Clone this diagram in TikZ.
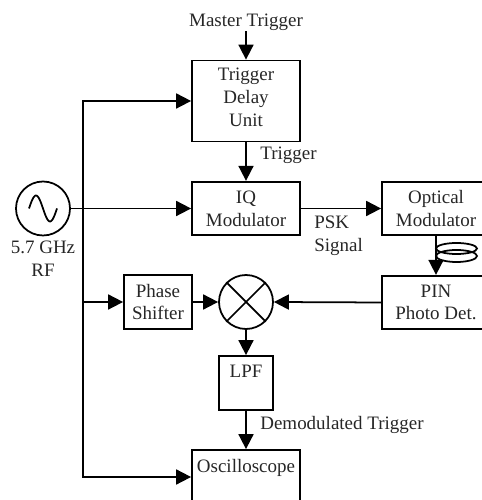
\documentclass[tikz,border=0pt]{standalone}
\usepackage{fontspec}
\setmainfont{Liberation Serif}
\usetikzlibrary{arrows.meta}

\tikzset{
  blockbox/.style={draw,line width=1pt,inner sep=0pt,align=center,text=black!85,font=\fontsize{10.8pt}{13pt}\selectfont},
  roundbox/.style={circle,draw,line width=1pt,inner sep=0pt,minimum size=1.08cm},
  plaintext/.style={inner sep=0pt,align=left,text=black!85,font=\fontsize{10.8pt}{13pt}\selectfont},
  wire/.style={line width=1pt},
  arrowwire/.style={wire,-{Triangle[length=0.3cm,width=0.3cm]}},
}

\begin{document}
\begin{tikzpicture}
  \useasboundingbox (0,0) rectangle (9.62,10);

  \node[plaintext] (master) at (4.92,9.55) {Master Trigger};
  \node[blockbox,minimum width=2.16cm,minimum height=1.62cm] (delay) at (4.92,7.98) {Trigger\\Delay\\Unit\\[-8.5pt]\mbox{}};
  \node[blockbox,minimum width=2.16cm,minimum height=1.07cm] (iq) at (4.92,5.83) {IQ\\Modulator};
  \node[blockbox,minimum width=2.16cm,minimum height=1.07cm] (optical) at (8.72,5.83) {Optical\\Modulator};
  \node[blockbox,minimum width=2.16cm,minimum height=1.07cm] (pin) at (8.72,3.95) {PIN\\Photo Det.};
  \node[blockbox,minimum width=1.36cm,minimum height=1.08cm] (shifter) at (3.16,3.96) {Phase\\Shifter};
  \node[blockbox,minimum width=1.08cm,minimum height=1.08cm] (lpf) at (4.92,2.34) {LPF\\\mbox{}};
  \node[blockbox,minimum width=2.16cm,minimum height=1.08cm] (scope) at (4.92,0.46) {Oscilloscope\\\mbox{}};
  \node[roundbox] (rf) at (0.86,5.83) {};
  \node[roundbox] (mixer) at (4.92,3.96) {};
  \coordinate (bus) at (1.66,5.83);
  \coordinate (busmid) at (bus |- shifter.west);

  % labels
  \node[plaintext,anchor=west] (triglabel) at (5.2,6.89) {Trigger};
  \node[plaintext,anchor=west] (psklabel) at (6.28,5.29) {PSK\\Signal};
  \node[plaintext,anchor=west] (demodlabel) at (5.2,1.51) {Demodulated Trigger};
  \node[plaintext,align=center] (rflabel) at (0.86,4.82) {5.7 GHz\\RF};

  % source and mixer marks
  \draw[wire,shift={(rf.center)}] plot[domain=0:0.56,samples=40,smooth] ({\x-0.28},{0.26*sin(\x/0.56*360)});
  \draw[wire] (mixer.45) -- (mixer.225);
  \draw[wire] (mixer.135) -- (mixer.315);

  % connectors
  \draw[arrowwire] (master.south) -- (delay.north);
  \draw[arrowwire] (delay.south) -- (iq.north);
  \draw[arrowwire] (rf.east) -- (iq.west);
  \draw[arrowwire] (iq.east) -- (optical.west);
  \draw[arrowwire] (optical.south) -- (pin.north);
  \draw[arrowwire] (pin.west) -- (mixer.east);
  \draw[arrowwire] (bus) |- (delay.west);
  \draw[arrowwire] (bus) |- (scope.west);
  \draw[arrowwire] (busmid) -- (shifter.west);
  \draw[arrowwire] (shifter.east) -- (mixer.west);
  \draw[arrowwire] (mixer.south) -- (lpf.north);
  \draw[arrowwire] (lpf.south) -- (scope.north);

  % fibre coil
  \draw[wire] (9.13,5.03) ellipse (0.41 and 0.11);
  \draw[wire] (9.13,4.88) ellipse (0.41 and 0.12);
\end{tikzpicture}
\end{document}
